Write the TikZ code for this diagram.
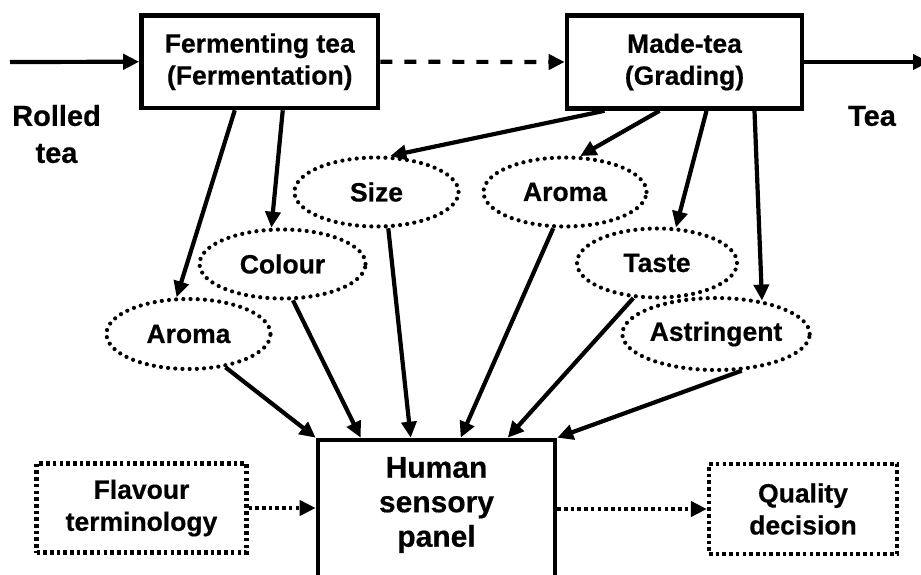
\documentclass[tikz,border=0pt]{standalone}
\usepackage{fontspec}
\setmainfont{Liberation Sans}[BoldFeatures={FakeBold=0.5}]
\usetikzlibrary{arrows.meta,shapes.geometric,calc}
\begin{document}
\begin{tikzpicture}[x=1pt,y=-1pt,
  lbl/.style={font=\bfseries\fontsize{26.5}{32}\selectfont, align=center},
  biglbl/.style={font=\bfseries\fontsize{29}{37}\selectfont, align=center},
  procbox/.style={lbl, draw, rectangle, line width=4.6pt, inner sep=0pt},
  trait/.style={lbl, draw, ellipse, line width=4.2pt, dash pattern=on 0pt off 7.2pt,
                line cap=round, inner sep=0pt},
  notebox/.style={lbl, draw, rectangle, line width=4.2pt, dash pattern=on 3.6pt off 3.1pt,
                  inner sep=0pt},
  flow/.style={line width=4.2pt, -{Triangle[length=16pt,width=15pt]}},
  dashflow/.style={flow, dash pattern=on 12pt off 12pt},
  dotflow/.style={line width=3.8pt, dash pattern=on 3.6pt off 3.1pt,
                  -{Triangle[length=16pt,width=15pt]}},
]
\fill[white] (0,0) rectangle (921,575);
\useasboundingbox (0,0) rectangle (921,575);

% processing stages
\node[procbox, minimum width=236.5pt, minimum height=92.5pt] (ferm) at (259.75,61.75)
  {Fermenting tea\\(Fermentation)};
\node[procbox, minimum width=235pt, minimum height=93pt] (made) at (684.5,62)
  {Made-tea\\(Grading)};

% input and output labels
\coordinate (in) at (10,62);
\coordinate (out) at (929,62);
\node[biglbl] (rolled) at (56.5,134) {Rolled\\tea};
\node[biglbl] (teaout) at (872,116) {Tea};

% quality attributes
\node[trait, minimum width=164pt, minimum height=70pt] (aromaL) at (188.5,334) {Aroma};
\node[trait, minimum width=166pt, minimum height=69pt] (colour) at (282.5,264) {Colour};
\node[trait, minimum width=164pt, minimum height=69pt] (size)   at (376.5,192) {Size};
\node[trait, minimum width=163pt, minimum height=69pt] (aromaT) at (565,192)   {Aroma};
\node[trait, minimum width=160pt, minimum height=69pt] (taste)  at (657,263)   {Taste};
\node[trait, minimum width=184pt, minimum height=72pt] (astr)   at (716,334)   {Astringent};

% sensory panel (box runs past the lower edge)
\node[draw, line width=4.6pt, rectangle, inner sep=0pt,
      minimum width=237pt, minimum height=200pt] (panel) at (436.5,540) {};
\node[font=\bfseries\fontsize{30}{34.5}\selectfont, align=center] (paneltxt) at (436.5,505)
  {Human\\sensory\\panel};

% side boxes
\node[notebox, minimum width=210pt, minimum height=89pt] (flav) at (141.5,508)
  {Flavour\\terminology};
\node[notebox, minimum width=188pt, minimum height=90pt] (qual) at (803,509)
  {Quality\\decision};

% main flow
\draw[flow] (in) -- (ferm.west);
\draw[dashflow] (ferm.east) -- (made.west);
\draw[flow] (made.east) -- (out);

% stages to attributes
\draw[flow] ($(ferm.south)+(-25,0)$) -- (aromaL.108);
\draw[flow] ($(ferm.south)+(23,0)$)  -- (colour.107);
\draw[flow] ($(made.south)+(-80,0)$) -- (size.69);
\draw[flow] ($(made.south)+(-25,0)$) -- (aromaT.67);
\draw[flow] ($(made.south)+(22,0)$)  -- (taste.62);
\draw[flow] ($(made.south)+(70,0)$)  -- (astr.36);

% attributes to the panel
\draw[flow] (aromaL.-42) -- (panel.north west);
\draw[flow] (colour.-74) -- ($(panel.north west)+(45,0)$);
\draw[flow] (size.-72)   -- ($(panel.north west)+(95,0)$);
\draw[flow] (aromaT.-108) -- ($(panel.north west)+(145,0)$);
\draw[flow] (taste.-124) -- ($(panel.north west)+(192,0)$);
\draw[flow] (astr.-55)   -- (panel.north east);

% terminology in, decision out
\draw[dotflow] (flav.east) -- (flav.east -| panel.west);
\draw[dotflow] (panel.east |- qual.west) -- (qual.west);
\end{tikzpicture}
\end{document}
